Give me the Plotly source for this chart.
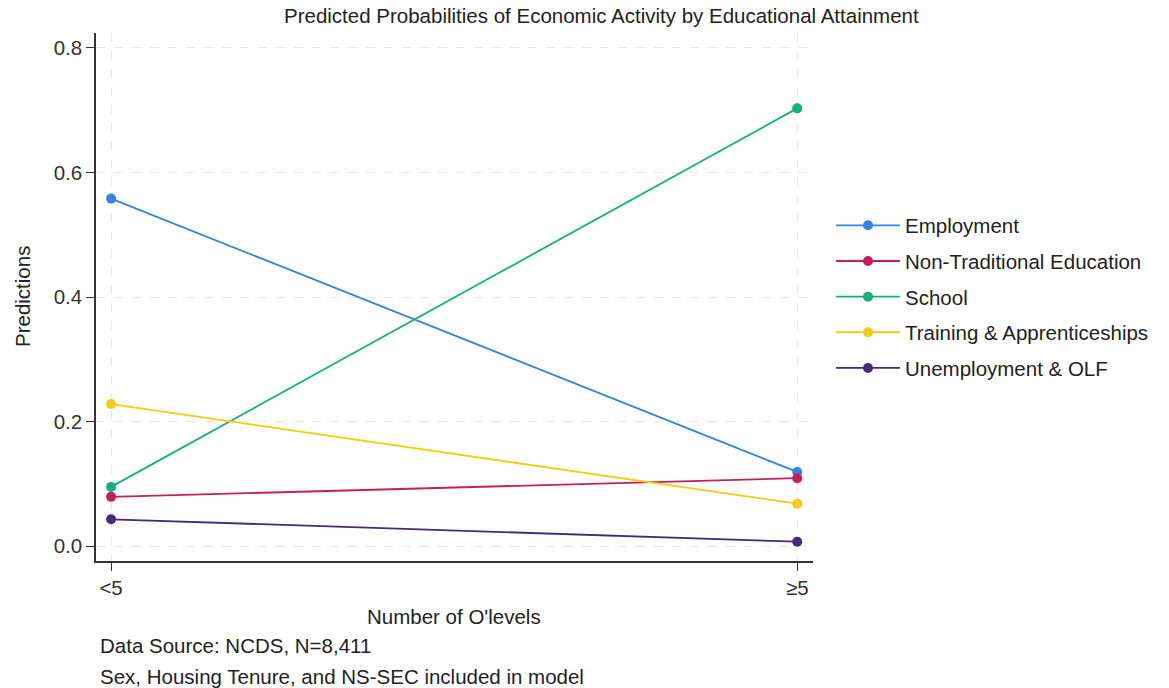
import plotly.graph_objects as go

# Predicted probabilities by number of O'levels
categories = ["<5", "≥5"]
outcomes = [
    "Employment",
    "Non-Traditional Education",
    "School",
    "Training & Apprenticeships",
    "Unemployment & OLF",
]
employment = [0.558, 0.119]
non_traditional = [0.079, 0.109]
school = [0.095, 0.703]
training = [0.228, 0.068]
unemployment = [0.043, 0.007]

y_ticks = [0.0, 0.2, 0.4, 0.6, 0.8]
y_tick_labels = ["0.0", "0.2", "0.4", "0.6", "0.8"]

series = [employment, non_traditional, school, training, unemployment]
colors = ["#2f86e0", "#c81d5c", "#13b07c", "#f5cc12", "#43297f"]

FONT = "Liberation Sans, Arial, sans-serif"
TXT = 20.5

W, H = 1169, 688
ML, MR, MT, MB = 96, 356, 33, 127
PW, PH = W - ML - MR, H - MT - MB


def px_x(x):
    return (x - ML) / PW


def px_y(y):
    return 1 - (y - MT) / PH


fig = go.Figure()
for i, (name, vals, col) in enumerate(zip(outcomes, series, colors)):
    fig.add_trace(go.Scatter(
        x=[0, 1], y=vals, name=name, mode="lines+markers",
        legendgroup=f"g{i}",
        line=dict(color=col, width=1.8),
        marker=dict(color=col, size=10),
    ))

fig.update_layout(
    width=W, height=H,
    margin=dict(l=ML, r=MR, t=MT, b=MB),
    paper_bgcolor="white", plot_bgcolor="white",
    font=dict(family=FONT, color="#333333", size=TXT),
    showlegend=True,
    legend=dict(
        x=px_x(831), y=0.5, xanchor="left", yanchor="middle",
        font=dict(size=TXT, color="#222222"),
        tracegroupgap=6, itemwidth=64,
        bgcolor="rgba(0,0,0,0)",
    ),
    xaxis=dict(
        range=[-0.022, 1.023],
        tickmode="array", tickvals=[0, 1], ticktext=categories,
        showline=True, linecolor="#333333", linewidth=1.5,
        ticks="outside", ticklen=8, tickcolor="#333333",
        showgrid=True, gridcolor="#e6e6e6", griddash="dash", gridwidth=1,
        zeroline=False, tickfont=dict(size=TXT),
    ),
    yaxis=dict(
        range=[-0.024, 0.824],
        tickmode="array", tickvals=y_ticks, ticktext=y_tick_labels,
        showline=True, linecolor="#333333", linewidth=1.5,
        ticks="outside", ticklen=8, tickcolor="#333333",
        showgrid=True, gridcolor="#e6e6e6", griddash="dash", gridwidth=1,
        zeroline=False, tickfont=dict(size=TXT),
    ),
)

labels = [
    ("Predicted Probabilities of Economic Activity by Educational Attainment",
     601, 16, 0),
    ("Predictions", 22, 297, -90),
    ("Number of O'levels", 454, 616, 0),
]
for txt, xp, yp, ang in labels:
    fig.add_annotation(
        text=txt, xref="paper", yref="paper",
        x=px_x(xp), y=px_y(yp),
        xanchor="center", yanchor="middle", showarrow=False,
        textangle=ang,
        font=dict(size=TXT, color="#222222", family=FONT),
    )

notes = [
    ("Data Source: NCDS, N=8,411", 645),
    ("Sex, Housing Tenure, and NS-SEC included in model", 676),
]
for txt, ypx in notes:
    fig.add_annotation(
        text=txt, xref="paper", yref="paper",
        x=px_x(98), y=px_y(ypx),
        xanchor="left", yanchor="middle", showarrow=False,
        font=dict(size=TXT, color="#222222", family=FONT),
    )

fig.write_html("out.html")
